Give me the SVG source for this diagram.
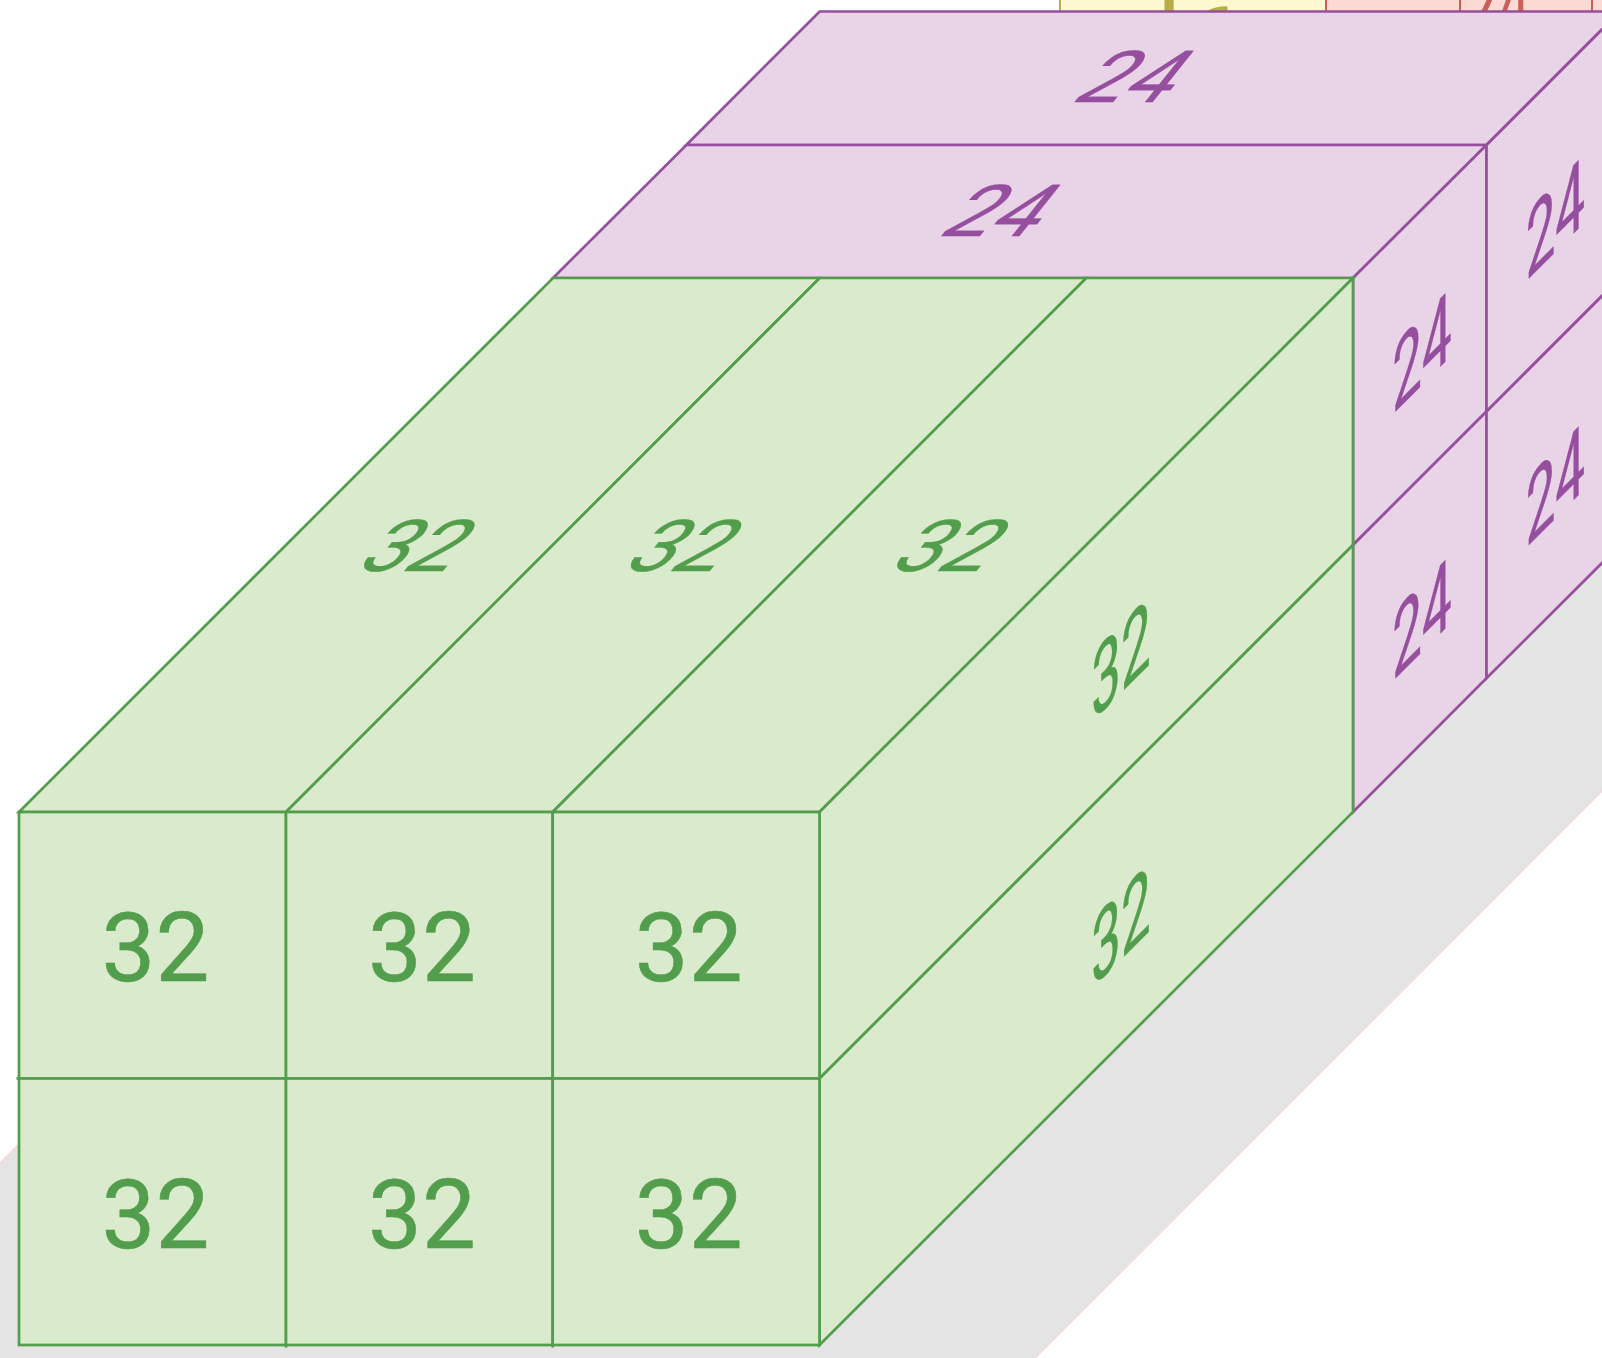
<svg xmlns="http://www.w3.org/2000/svg" width="1602" height="1358" viewBox="0 0 1602 1358">
<style>
text{font-family:Roboto,"Liberation Sans",sans-serif;font-size:96px;text-anchor:middle}
.g polygon,.g rect,.g line{fill:#daeacd;stroke:#529e4c;stroke-width:2.7}
.g text{fill:#529e4c;stroke:#529e4c;stroke-width:.5}
.p polygon{fill:#e9d3e7;stroke:#964f9f;stroke-width:2.7}
.p text{fill:#964f9f;stroke:#964f9f;stroke-width:.5}
.y rect{fill:#fdf8d0;stroke:#b8ad46;stroke-width:2}
.y text{fill:#b8ad46;text-anchor:start;font-size:100px}
.r rect{fill:#fcd9d2;stroke:#c8605a;stroke-width:2}
.r text{fill:#c8605a;text-anchor:start;font-size:100px}
</style>
<defs><clipPath id="c"><rect x="0" y="0" width="1602" height="12"/></clipPath></defs>
<rect width="1602" height="1358" fill="#fff"/>
<polygon id="ground" points="-20,1183 1640,-477 1640,753 1015,1378 -20,1378" fill="#e4e4e4" stroke="#f8d7d7" stroke-width="1.5"/>
<g id="back-yellow" class="y"><rect x="1060" y="-20" width="266" height="60"/><g clip-path="url(#c)"><text><tspan x="1138" y="45">1</tspan><tspan x="1186" y="78">6</tspan></text></g></g>
<g id="back-red-1" class="r"><rect x="1326" y="-20" width="134" height="60"/></g>
<g id="back-red-2" class="r"><rect x="1460" y="-20" width="132" height="60"/><g clip-path="url(#c)"><text transform="matrix(.55 0 0 1 1468 38)">24</text></g></g>
<g id="back-red-3" class="r"><rect x="1592" y="-20" width="40" height="60"/></g>

<g id="purple-top-back" class="p"><polygon points="686.3,145 819.6,11.5 1620,11.5 1486.5,145"/><text transform="matrix(.86 0 -.6 .75 1136.6 76.7)" y="34">24</text></g>
<g id="purple-top-front" class="p"><polygon points="553,278 686.3,145 1486.5,145 1353,278"/><text transform="matrix(.86 0 -.6 .75 1003.3 210)" y="34">24</text></g>
<g id="purple-side-1" class="p"><polygon points="1353,278 1486.5,145 1486.5,411.5 1353,545"/><text transform="matrix(.55 -.55 0 1 1422 351)" y="34">24</text></g>
<g id="purple-side-2" class="p"><polygon points="1353,545 1486.5,411.5 1486.5,678.3 1353,812"/><text transform="matrix(.55 -.55 0 1 1422 617.7)" y="34">24</text></g>
<g id="purple-side-3" class="p"><polygon points="1486.5,145 1620,11.5 1620,278 1486.5,411.5"/><text transform="matrix(.55 -.55 0 1 1555.3 217.7)" y="34">24</text></g>
<g id="purple-side-4" class="p"><polygon points="1486.5,411.5 1620,278 1620,545 1486.5,678.3"/><text transform="matrix(.55 -.55 0 1 1555.3 484.3)" y="34">24</text></g>

<g id="green-top-1" class="g"><polygon points="19,812 553,278 819.7,278 286,812"/><text transform="matrix(.86 0 -.6 .75 420 545)" y="34">32</text></g>
<g id="green-top-2" class="g"><polygon points="286,812 819.7,278 1086.3,278 552.7,812"/><text transform="matrix(.86 0 -.6 .75 686.7 545)" y="34">32</text></g>
<g id="green-top-3" class="g"><polygon points="552.7,812 1086.3,278 1353,278 819.5,812"/><text transform="matrix(.86 0 -.6 .75 953.3 545)" y="34">32</text></g>
<g id="green-side-1" class="g"><polygon points="819.5,812 1353,278 1353,545 819.5,1078.5"/><text transform="matrix(.55 -.55 0 1 1121 658.7)" y="34">32</text></g>
<g id="green-side-2" class="g"><polygon points="819.5,1078.5 1353,545 1353,812 819.5,1345"/><text transform="matrix(.55 -.55 0 1 1121 925.4)" y="34">32</text></g>

<g id="green-front-1" class="g"><rect x="19" y="812" width="267" height="266.5"/><text x="155.5" y="981">32</text></g>
<g id="green-front-2" class="g"><rect x="286" y="812" width="266.7" height="266.5"/><text x="422" y="981">32</text></g>
<g id="green-front-3" class="g"><rect x="552.7" y="812" width="266.8" height="266.5"/><text x="688.7" y="981">32</text></g>
<g id="green-front-4" class="g"><rect x="19" y="1078.5" width="267" height="266.5"/><line x1="16.5" y1="1078.5" x2="19" y2="1078.5"/><text x="155.5" y="1247.7">32</text></g>
<g id="green-front-5" class="g"><rect x="286" y="1078.5" width="266.7" height="266.5"/><line x1="286" y1="1345" x2="286" y2="1347.5"/><line x1="552.7" y1="1345" x2="552.7" y2="1347.5"/><text x="422" y="1247.7">32</text></g>
<g id="green-front-6" class="g"><rect x="552.7" y="1078.5" width="266.8" height="266.5"/><text x="688.7" y="1247.7">32</text></g>
</svg>
